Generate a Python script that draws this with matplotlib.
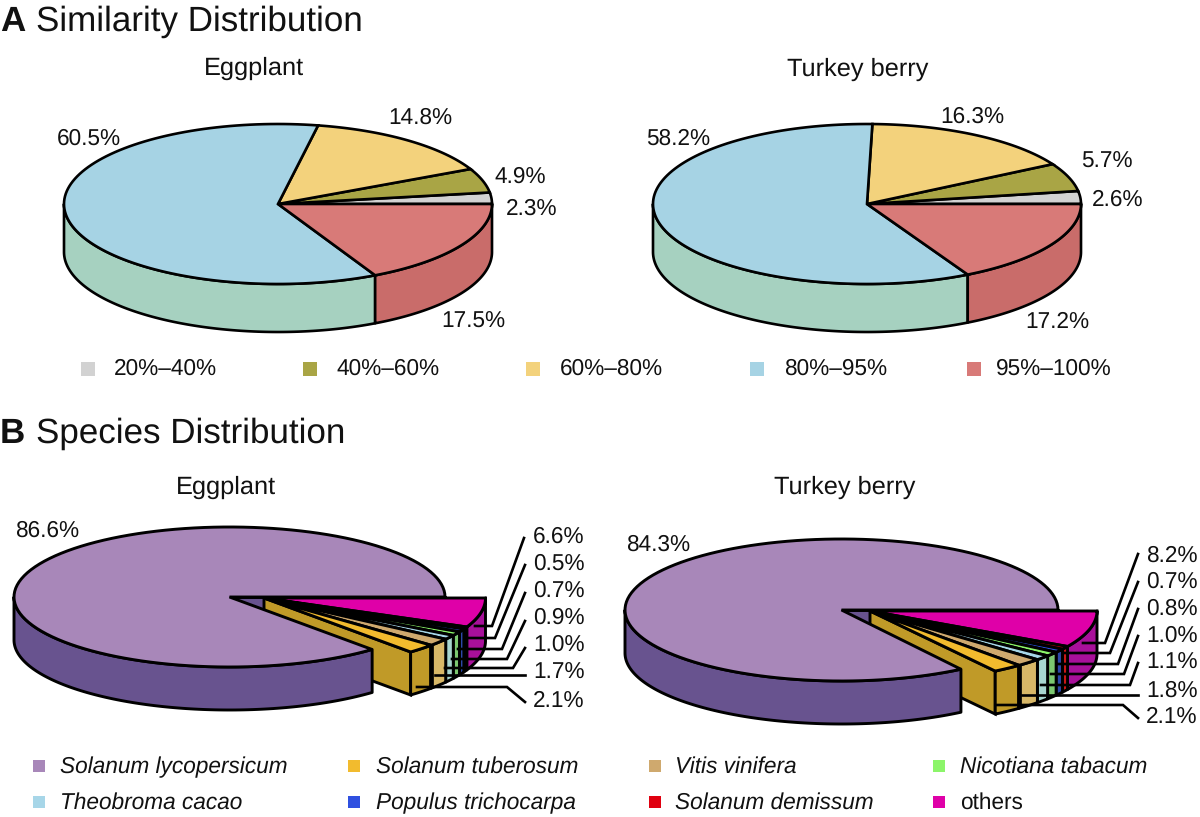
import numpy as np
import matplotlib
matplotlib.use('Agg')
import matplotlib.pyplot as plt
from matplotlib.patches import Polygon, Rectangle

plt.rcParams['font.family'] = ['Liberation Sans', 'DejaVu Sans']
plt.rcParams['text.hinting'] = 'no_hinting'

# similarity distribution, percent
sim_labels = ['20%–40%', '40%–60%', '60%–80%', '80%–95%', '95%–100%']
sim_eggplant = [2.3, 4.9, 14.8, 60.5, 17.5]
sim_turkey = [2.6, 5.7, 16.3, 58.2, 17.2]

# species distribution, percent, counter-clockwise from the east
species_labels = ['Solanum lycopersicum', 'Solanum tuberosum', 'Vitis vinifera',
                  'Theobroma cacao', 'Nicotiana tabacum', 'Populus trichocarpa',
                  'Solanum demissum', 'others']
species_eggplant = [86.6, 2.1, 1.7, 1.0, 0.9, 0.7, 0.5, 6.6]
species_turkey = [84.3, 2.1, 1.8, 1.1, 1.0, 0.8, 0.7, 8.2]

# colours
sim_top = ['#d2d2d2', '#a9a545', '#f3d27c', '#a6d3e4', '#d87a78']
sim_side = ['#d2d2d2', '#a9a545', '#f3d27c', '#a6d1c0', '#c96c6a']
sp_top = ['#a887b9', '#f2bb2e', '#cfa96e', '#a7d6e8', '#8cf56a', '#2f50e0', '#e00010', '#df00a8']
sp_side = ['#68538f', '#c09a28', '#d8b868', '#a8d6d0', '#7cc870', '#2c48a8', '#c81818', '#a8109a']

fig = plt.figure(figsize=(12, 8.17), dpi=100)
ax = fig.add_axes([0, 0, 1, 1])
ax.set_xlim(0, 1200)
ax.set_ylim(817, 0)
ax.axis('off')


def ell(c, r, a):
    a = np.radians(a)
    return np.column_stack([c[0] + r[0] * np.cos(a), c[1] - r[1] * np.sin(a)])


def top(c, r, a0, a1, color, lw):
    pts = np.vstack([[c], ell(c, r, np.linspace(a0, a1, 120))])
    ax.add_patch(Polygon(pts, closed=True, fc=color, ec='k', lw=lw, joinstyle='miter'))


def side(c, r, depth, a0, a1, color, lw):
    # outer wall, only the part that faces the viewer
    a0 = max(a0, 180)
    a1 = min(a1, 360)
    if a1 <= a0:
        return
    upper = ell(c, r, np.linspace(a0, a1, 120))
    lower = upper[::-1] + [0, depth]
    ax.add_patch(Polygon(np.vstack([upper, lower]), closed=True, fc=color, ec='k',
                         lw=lw, joinstyle='round'))


def cut(c, r, depth, a, color, lw):
    # flat wall along one radius
    edge = ell(c, r, [a])[0]
    pts = [c, edge, edge + [0, depth], np.array(c) + [0, depth]]
    ax.add_patch(Polygon(pts, closed=True, fc=color, ec='k', lw=lw, joinstyle='miter'))


def angles(vals):
    edges = np.cumsum([0] + list(vals)) / sum(vals) * 360
    return edges[:-1], edges[1:]


def sim_pie(c, vals):
    r, depth, lw = (214, 80), 48, 1.9
    a0, a1 = angles(vals)
    for i in range(len(vals)):
        side(c, r, depth, a0[i], a1[i], sim_side[i], lw)
    for i in range(len(vals)):
        top(c, r, a0[i], a1[i], sim_top[i], lw)


def species_pie(c, r, c_out, r_out, depth, vals):
    lw = 2.1
    a0, a1 = angles(vals)
    cut(c, r, depth, 0, sp_side[0], lw)
    cut(c_out, r_out, depth, a0[1], sp_side[1], lw)
    for i in range(len(vals) - 1, 0, -1):
        side(c_out, r_out, depth, a0[i], a1[i], sp_side[i], lw)
    # heavy seam between the two biggest front walls
    seam = ell(c_out, r_out, [a1[1]])[0]
    ax.plot([seam[0], seam[0]], [seam[1], seam[1] + depth], color='k', lw=3.4,
            solid_capstyle='butt')
    for i in range(len(vals) - 1, 0, -1):
        top(c_out, r_out, a0[i], a1[i], sp_top[i], lw)
    side(c, r, depth, a0[0], a1[0], sp_side[0], lw)
    top(c, r, a0[0], a1[0], sp_top[0], lw)


sim_pie((278, 204), sim_eggplant)
sim_pie((867, 204), sim_turkey)
species_pie((229.5, 597), (215.5, 70), (264, 598), (221.5, 72), 43, species_eggplant)
species_pie((841.5, 610), (216.5, 71), (870, 611), (227, 72), 43, species_turkey)

# leader lines of the small slices
leaders_left = [
    [(475, 626), (492, 626), (524, 538)],
    [(465, 638), (495, 638), (525, 565)],
    [(458, 649), (502, 649), (525, 593)],
    [(452, 659), (507, 659), (525, 621)],
    [(445, 668), (513, 668), (525, 648)],
    [(435, 675), (525, 675)],
    [(417, 687), (507, 687), (525, 702)],
]
leaders_right = [
    [(1083, 643), (1105, 643), (1138, 554)],
    [(1065, 653), (1110, 653), (1138, 582)],
    [(1057, 664), (1118, 664), (1138, 609)],
    [(1051, 674), (1124, 674), (1138, 636)],
    [(1041, 685), (1130, 685), (1138, 663)],
    [(1022, 695), (1138, 695)],
    [(997, 705), (1123, 705), (1138, 718)],
]
for seg in leaders_left + leaders_right:
    seg = np.array(seg)
    ax.plot(seg[:, 0], seg[:, 1], color='k', lw=1.9, solid_joinstyle='miter')

FS = 16.3


def txt(x, y, s, ha='center', **kw):
    kw.setdefault('fontsize', FS)
    ax.text(x, y + 2, s, ha=ha, va='center', color='#111111', **kw)


# panel titles
txt(0, 20, 'A', ha='left', fontsize=25.2, fontweight='bold')
txt(36, 20, 'Similarity Distribution', ha='left', fontsize=25.2)
txt(0, 432, 'B', ha='left', fontsize=25.2, fontweight='bold')
txt(36, 432, 'Species Distribution', ha='left', fontsize=25.2)
for x, y, s in [(254, 66, 'Eggplant'), (858, 67, 'Turkey berry'),
                (226, 485, 'Eggplant'), (845, 485, 'Turkey berry')]:
    txt(x, y, s, fontsize=18.3)

# percent labels
sim_left_xy = [(532, 207), (520, 175), (420, 116), (89, 137), (473, 320)]
sim_right_xy = [(1118, 198), (1107, 160), (972, 115), (678, 137), (1057, 320)]
for (x, y), v in zip(sim_left_xy, sim_eggplant):
    txt(x, y, f'{v}%')
for (x, y), v in zip(sim_right_xy, sim_turkey):
    txt(x, y, f'{v}%')

txt(47, 529, f'{species_eggplant[0]}%')
txt(658, 543, f'{species_turkey[0]}%')
left_y = [535, 562, 589, 616, 643, 671, 699]
right_y = [554, 580, 607, 634, 661, 689, 715]
for y, v in zip(left_y, species_eggplant[:0:-1]):
    txt(533, y, f'{v}%', ha='left')
for y, v in zip(right_y, species_turkey[:0:-1]):
    txt(1146, y, f'{v}%', ha='left')

# legends
sim_leg_x = [81, 303, 526, 750, 967]
sim_txt_x = [114, 336, 560, 784, 996]
for i, s in enumerate(sim_labels):
    ax.add_patch(Rectangle((sim_leg_x[i], 362), 14, 14, fc=sim_top[i], ec='none'))
    txt(sim_txt_x[i], 367, s, ha='left')

sp_leg_xy = [(33, 766), (348, 766), (649, 766), (33, 802),
             (933, 766), (348, 802), (649, 802), (933, 802)]
sp_txt_x = {33: 60, 348: 376, 649: 675, 933: 960}
for i, s in enumerate(species_labels):
    x, y = sp_leg_xy[i]
    ax.add_patch(Rectangle((x, y - 6), 12, 12, fc=sp_top[i], ec='none'))
    txt(sp_txt_x[x], y - 1, s, ha='left', style='normal' if s == 'others' else 'italic')

fig.savefig('out.png', dpi=100)
